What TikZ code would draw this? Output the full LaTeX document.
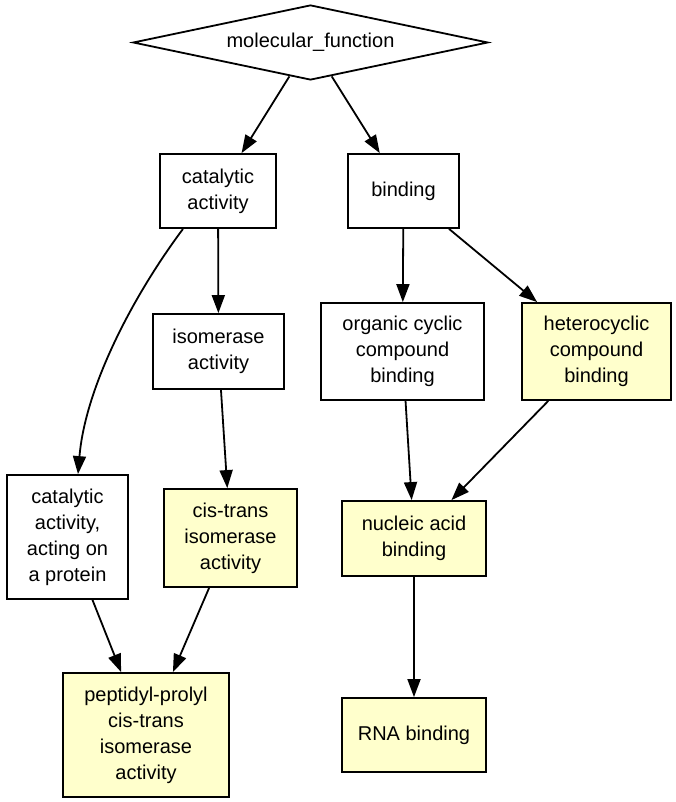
\documentclass[tikz,border=0pt]{standalone}
\usepackage{fontspec}
\setmainfont{Liberation Sans}
\usetikzlibrary{shapes.geometric,arrows.meta}
\definecolor{termyellow}{RGB}{255,255,204}
\tikzset{
  term/.style={draw=black, line width=1.8pt, rectangle, align=center, inner sep=0pt, fill=white},
  hit/.style={term, fill=termyellow},
  link/.style={draw=black, line width=1.8pt, -{Triangle[length=18pt,width=13pt]}},
}
\begin{document}
\begin{tikzpicture}[x=1pt,y=-1pt, font=\fontsize{20}{26}\selectfont]
\useasboundingbox (0,0) rectangle (675,802);
\node[draw=black, line width=1.8pt, diamond, shape aspect=4.73, minimum width=355pt, minimum height=75pt, inner sep=0pt] (mf) at (310.5,42.5) {molecular\_function};
\node[term, minimum width=116pt, minimum height=74pt] (cat) at (218,191) {catalytic\\activity};
\node[term, minimum width=111pt, minimum height=74pt] (bind) at (403.5,191) {binding};
\node[term, minimum width=131pt, minimum height=75pt] (iso) at (218.5,351.5) {isomerase\\activity};
\node[term, minimum width=163pt, minimum height=97pt] (org) at (402.5,351.5) {organic cyclic\\compound\\binding};
\node[hit, minimum width=149pt, minimum height=97pt] (het) at (596.5,351.5) {heterocyclic\\compound\\binding};
\node[term, minimum width=121pt, minimum height=124pt] (act) at (67.5,537) {catalytic\\activity,\\acting on\\a protein};
\node[hit, minimum width=133pt, minimum height=98pt] (cis) at (230.5,538) {cis-trans\\isomerase\\activity};
\node[hit, minimum width=144pt, minimum height=75pt] (nuc) at (414,538.5) {nucleic acid\\binding};
\node[hit, minimum width=166pt, minimum height=124pt] (pep) at (146,735) {peptidyl-prolyl\\cis-trans\\isomerase\\activity};
\node[hit, minimum width=144pt, minimum height=74pt] (rna) at (414,735) {RNA binding};

\draw[link] (mf) -- (cat);
\draw[link] (mf) -- (bind);
\draw[link] (cat) -- (iso);
\draw[link] ([xshift=-35pt]cat.south) .. controls (130,300) and (85,390) .. ([xshift=10.5pt]act.north);
\draw[link] (bind) -- (org);
\draw[link] (bind) -- (het);
\draw[link] (iso) -- (cis);
\draw[link] (org) -- (nuc);
\draw[link] (het) -- (nuc);
\draw[link] (act) -- (pep);
\draw[link] (cis) -- (pep);
\draw[link] (nuc) -- (rna);
\end{tikzpicture}
\end{document}
